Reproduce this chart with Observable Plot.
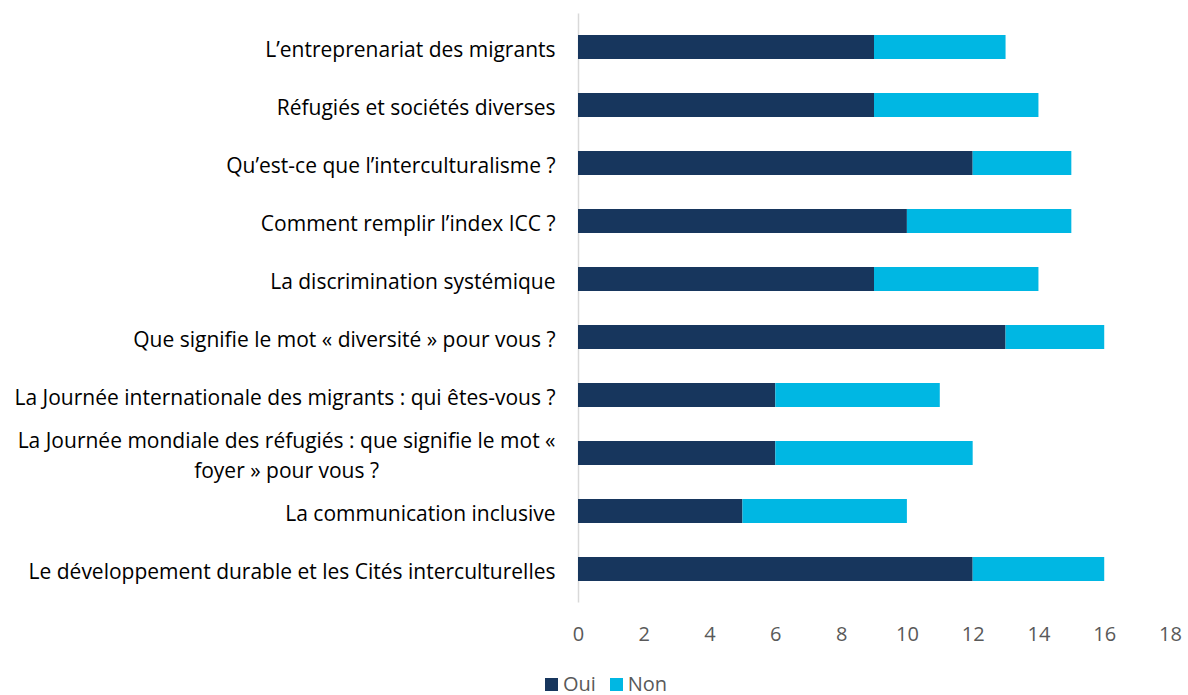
<!DOCTYPE html>
<html>
<head>
<meta charset="utf-8">
<script src="https://cdn.jsdelivr.net/npm/d3@7"></script>
<script src="https://cdn.jsdelivr.net/npm/@observablehq/plot@0.6"></script>
<style>
  html, body { margin: 0; padding: 0; background: #fff; }
  #legend { display: flex; justify-content: center; align-items: center; gap: 14px;
            font-family: "Open Sans", Lato, sans-serif; font-size: 20px; color: #595959;
            margin-top: 8px; line-height: 22px; padding-left: 24px; }
  .sw { display: inline-flex; align-items: center; gap: 5px; }
  .sw i { display: inline-block; width: 13px; height: 13px; }
</style>
</head>
<body>
<div id="chart"></div>
<div id="legend"></div>
<script>
const categories = [
  "L’entreprenariat des migrants",
  "Réfugiés et sociétés diverses",
  "Qu’est-ce que l’interculturalisme ?",
  "Comment remplir l’index ICC ?",
  "La discrimination systémique",
  "Que signifie le mot « diversité » pour vous ?",
  "La Journée internationale des migrants : qui êtes-vous ?",
  "La Journée mondiale des réfugiés : que signifie le mot « foyer » pour vous ?",
  "La communication inclusive",
  "Le développement durable et les Cités interculturelles"
];
const categoryTickLabels = [
  "L’entreprenariat des migrants",
  "Réfugiés et sociétés diverses",
  "Qu’est-ce que l’interculturalisme ?",
  "Comment remplir l’index ICC ?",
  "La discrimination systémique",
  "Que signifie le mot « diversité » pour vous ?",
  "La Journée internationale des migrants : qui êtes-vous ?",
  "La Journée mondiale des réfugiés : que signifie le mot «\nfoyer » pour vous ?",
  "La communication inclusive",
  "Le développement durable et les Cités interculturelles"
];
const oui = [9, 9, 12, 10, 9, 13, 6, 6, 5, 12];
const non = [4, 5, 3, 5, 5, 3, 5, 6, 5, 4];
const seriesNames = ["Oui", "Non"];
const seriesColors = ["#17365D", "#00B7E3"];
const xTicks = [0, 2, 4, 6, 8, 10, 12, 14, 16, 18];

const data = [];
categories.forEach((c, i) => {
  data.push({cat: c, series: "Oui", value: oui[i]});
  data.push({cat: c, series: "Non", value: non[i]});
});

const chart = Plot.plot({
  width: 1188,
  height: 665,
  marginLeft: 578,
  marginRight: 18,
  marginTop: 13.5,
  marginBottom: 62.5,
  style: {fontFamily: "'Open Sans', Lato, sans-serif", fontSize: "20px", background: "#fff"},
  x: {domain: [0, 18]},
  y: {domain: categories, paddingInner: 0.59, paddingOuter: 0.295},
  color: {domain: seriesNames, range: seriesColors},
  marks: [
    Plot.ruleX([0], {stroke: "#D9D9D9", strokeWidth: 1.5}),
    Plot.barX(data, {x: "value", y: "cat", fill: "series"}),
    Plot.axisX({ticks: xTicks, tickSize: 0, tickPadding: 24, fill: "#595959", label: null, fontSize: 20}),
    Plot.axisY({tickSize: 0, tickPadding: 23, label: null, fill: "#000", fontSize: 21, lineHeight: 1.4,
                tickFormat: d => categoryTickLabels[categories.indexOf(d)]})
  ]
});
document.getElementById("chart").appendChild(chart);

// center multi-line category labels (Excel style)
chart.querySelectorAll("text").forEach(t => {
  if (t.querySelectorAll("tspan").length > 1) {
    const w = t.getBBox().width;
    t.setAttribute("text-anchor", "middle");
    t.setAttribute("transform", (t.getAttribute("transform") || "") + ` translate(${-w / 2},0)`);
  }
});

const legend = document.getElementById("legend");
seriesNames.forEach((s, i) => {
  const span = document.createElement("span");
  span.className = "sw";
  const sq = document.createElement("i");
  sq.style.background = seriesColors[i];
  span.appendChild(sq);
  span.appendChild(document.createTextNode(s));
  legend.appendChild(span);
});
</script>
</body>
</html>
